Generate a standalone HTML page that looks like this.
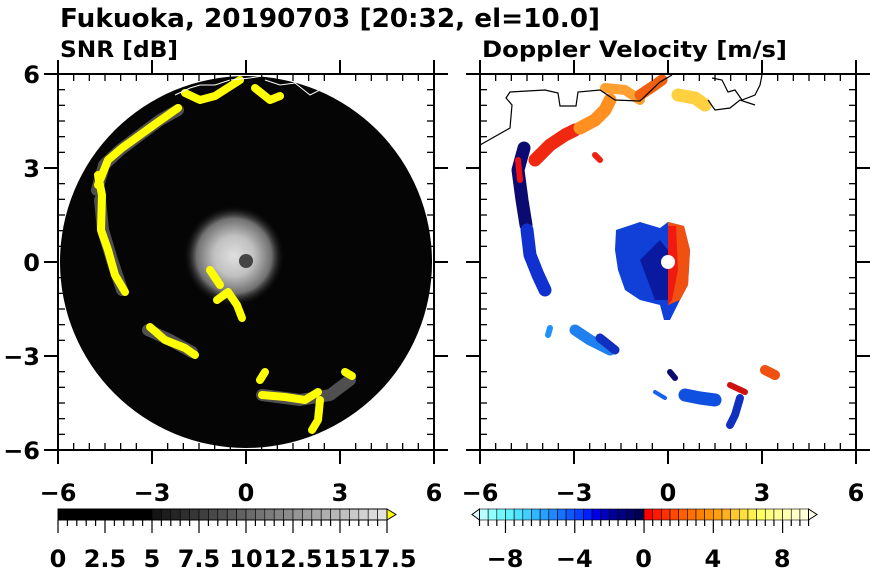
<!DOCTYPE html>
<html><head><meta charset="utf-8">
<style>
html,body{margin:0;padding:0;background:#fff;}
svg{display:block;font-family:"DejaVu Sans","Liberation Sans",sans-serif;font-weight:bold;}
</style></head>
<body>
<svg id="s" width="870" height="570" viewBox="0 0 870 570" xmlns="http://www.w3.org/2000/svg">
<defs>
<radialGradient id="cg" cx="0.5" cy="0.5" r="0.5">
<stop offset="0" stop-color="#e0e0e0"/><stop offset="0.4" stop-color="#c0c0c0"/><stop offset="0.75" stop-color="#707070"/><stop offset="1" stop-color="#111" stop-opacity="0"/>
</radialGradient>
</defs>
<text x="60" y="27" font-size="26" textLength="540" lengthAdjust="spacingAndGlyphs">Fukuoka, 20190703 [20:32, el=10.0]</text>
<text x="60" y="57" font-size="22" textLength="118" lengthAdjust="spacingAndGlyphs">SNR [dB]</text>
<text x="482" y="57" font-size="22" textLength="305" lengthAdjust="spacingAndGlyphs">Doppler Velocity [m/s]</text>

<!-- LEFT PANEL -->
<circle cx="246" cy="262" r="186" fill="#050505"/>
<circle cx="234" cy="256" r="50" fill="url(#cg)"/>
<circle cx="246" cy="261" r="7" fill="#444"/>
<g fill="none" stroke-linecap="round" stroke-linejoin="round">
<g stroke="#999" stroke-width="12" opacity="0.5">
<path d="M97 190 L104 165 L120 150 L140 135 L160 120 L178 110"/>
<path d="M100 200 L103 230 L112 260 L122 290"/>
<path d="M148 330 L170 340 L192 352"/>
<path d="M262 395 L300 400 L330 395 L350 380"/>
</g>
<g stroke="#ff0" stroke-width="8">
<path d="M98 175 L102 195 L101 230 L108 250 L115 275 L125 292"/>
<path d="M98 185 L108 160 L122 148 L140 135 L158 122 L178 108"/>
<path d="M185 93 L200 100 L215 96 L240 80"/>
<path d="M255 88 L270 100 L280 96"/>
<path d="M150 327 L165 340 L185 348 L195 355"/>
<path d="M217 300 L228 292 L237 305 L242 318"/>
<path d="M262 395 L285 397 L305 400 L318 392"/>
<path d="M320 400 L318 420 L312 430"/>
<path d="M345 372 L352 376"/>
<path d="M265 372 L260 380"/>
<path d="M210 270 L220 285"/>
</g>
</g>
<path d="M175 95 L190 88 L200 85 L215 85 L230 80 L250 78 L262 76 M265 80 L280 85 L295 83 L310 95 L320 90 L330 80" stroke="#fff" stroke-width="1" fill="none"/>

<!-- RIGHT PANEL -->
<g stroke-linecap="round" stroke-linejoin="round" fill="none">
<path d="M524 148 L518 170 L522 200 L526 225" stroke="#0a0a70" stroke-width="13"/>
<path d="M527 230 L530 255 L538 275 L545 290" stroke="#1030d0" stroke-width="13"/>
<path d="M518 160 L520 180" stroke="#f01010" stroke-width="6"/>
<path d="M535 160 L550 145 L565 135 L575 130" stroke="#f02810" stroke-width="13"/>
<path d="M580 128 L595 120 L605 110 L610 100" stroke="#ff9020" stroke-width="13"/>
<path d="M605 88 L625 90 L640 100" stroke="#ffa030" stroke-width="10"/>
<path d="M640 95 L655 85 L662 80" stroke="#f06010" stroke-width="11"/>
<path d="M678 95 L695 98 L705 105" stroke="#ffd040" stroke-width="13"/>
<path d="M595 155 L600 160" stroke="#f02010" stroke-width="6"/>
<path d="M575 330 L590 340 L610 350" stroke="#2080f0" stroke-width="11"/>
<path d="M600 338 L615 350" stroke="#1030c0" stroke-width="9"/>
<path d="M550 328 L548 335" stroke="#2090ff" stroke-width="6"/>
<path d="M685 395 L700 398 L715 400" stroke="#1050e0" stroke-width="13"/>
<path d="M740 398 L735 415 L730 425" stroke="#1030c0" stroke-width="8"/>
<path d="M730 385 L745 392" stroke="#d01010" stroke-width="6"/>
<path d="M765 370 L775 375" stroke="#f05010" stroke-width="10"/>
<path d="M655 392 L665 398" stroke="#1a60f0" stroke-width="4"/>
<path d="M670 372 L675 378" stroke="#0a0a70" stroke-width="6"/>
</g>
<path d="M616 230 L640 222 L660 228 L668 222 L684 226 L690 250 L688 285 L680 300 L670 320 L664 320 L660 305 L640 300 L625 290 L618 270 L615 250 Z" fill="#1040d8"/>
<path d="M668 222 L684 226 L690 250 L688 285 L680 300 L668 305 Z" fill="#f05010"/>
<path d="M668 226 L676 226 L678 270 L672 300 L668 305 Z" fill="#f01a10"/>
<path d="M640 260 L660 240 L668 250 L668 300 L655 300 Z" fill="#0a1aa0"/>
<circle cx="668" cy="262" r="7" fill="#fff"/>
<path d="M480 145 L510 128 L512 105 L506 98 L510 92 L545 90 L558 93 L560 106 L576 106 L578 92 L600 90 L615 100 L640 101 L660 82 L672 75 M712 78 L722 80 L728 92 L735 90 L742 100 L755 95 L760 85 L762 75 M708 100 L715 110 L730 108 L740 100 L755 105" stroke="#000" stroke-width="1.2" fill="none"/>

<g id="axes" fill="none" stroke="#000"></g>
<g id="lbl" font-size="24" text-anchor="middle"></g>
<g id="cb"></g>
</svg>
<script>
var NS="http://www.w3.org/2000/svg";
function el(t,a,p,txt){var e=document.createElementNS(NS,t);for(var k in a)e.setAttribute(k,a[k]);if(txt!==undefined)e.textContent=txt;(p||document.getElementById('s')).appendChild(e);return e;}
var ax=document.getElementById('axes'),lb=document.getElementById('lbl'),cb=document.getElementById('cb');
[58,480].forEach(function(x0){
  var y0=74,W=376,x1=x0+W,y1=y0+W;
  el('rect',{x:x0,y:y0,width:W,height:W,'stroke-width':2},ax);
  for(var i=0;i<=24;i++){
    var p=i*W/24, maj=(i%6==0);
    var xx=x0+p, yy=y0+p;
    if(maj){
      el('line',{x1:xx,y1:y0-14,x2:xx,y2:y0,'stroke-width':2},ax);
      el('line',{x1:xx,y1:y1,x2:xx,y2:y1+14,'stroke-width':2},ax);
      el('line',{x1:x0-14,y1:yy,x2:x0,y2:yy,'stroke-width':2},ax);
      el('line',{x1:x1,y1:yy,x2:x1+14,y2:yy,'stroke-width':2},ax);
    }else{
      el('line',{x1:xx,y1:y0,x2:xx,y2:y0+7,'stroke-width':1.3},ax);
      el('line',{x1:xx,y1:y1-7,x2:xx,y2:y1,'stroke-width':1.3},ax);
      el('line',{x1:x0,y1:yy,x2:x0+7,y2:yy,'stroke-width':1.3},ax);
      el('line',{x1:x1-7,y1:yy,x2:x1,y2:yy,'stroke-width':1.3},ax);
    }
  }
  ['−6','−3','0','3','6'].forEach(function(t,j){el('text',{x:x0+j*W/4,y:501},lb,t);});
});
['6','3','0','−3','−6'].forEach(function(t,j){el('text',{x:40,y:74+j*94+9,'text-anchor':'end'},lb,t);});
var cy=509,ch=11;
for(var i=0;i<35;i++){var v=i*0.5;var g=v<5?0:Math.round(20+(v-5)/12.5*215);
 el('rect',{x:58+i*9.4,y:cy,width:9.4,height:ch,fill:'rgb('+g+','+g+','+g+')',stroke:'#000','stroke-width':0.6},cb);}
el('path',{d:'M387 509 L396 514.5 L387 520 Z',fill:'#ff0',stroke:'#000','stroke-width':1},cb);
el('rect',{x:58,y:cy,width:329,height:ch,fill:'none',stroke:'#000','stroke-width':1},cb);
for(var i=0;i<=35;i++){var x=58+i*9.4;el('line',{x1:x,y1:520,x2:x,y2:(i%5==0)?533:526,stroke:'#000','stroke-width':1.2},cb);}
['0','2.5','5','7.5','10','12.5','15','17.5'].forEach(function(t,j){el('text',{x:58+j*47,y:567,'font-size':24,'text-anchor':'middle'},cb,t);});
var cols=['#b8ffff','#90ffff','#70f8ff','#60f0ff','#50e0ff','#40d0ff','#30b8ff','#28a0ff','#2088ff','#1870ff','#1058ff','#0840ff','#0020ff','#0000e8','#0000c0','#000098','#000080','#000068','#000050',
'#ff0000','#ff1a00','#ff3000','#ff4800','#ff6000','#ff7000','#ff8000','#ff9000','#ffa010','#ffb020','#ffc830','#ffe040','#fff050','#ffff60','#ffff80','#ffff98','#ffffb0','#ffffc8','#ffffd8'];
for(var i=0;i<38;i++){el('rect',{x:479.5+i*8.66,y:cy,width:8.66,height:ch,fill:cols[i],stroke:'#000','stroke-width':0.6},cb);}
el('path',{d:'M479.5 509 L472 514.5 L479.5 520 Z',fill:'#d8ffff',stroke:'#000','stroke-width':1},cb);
el('path',{d:'M808.5 509 L817 514.5 L808.5 520 Z',fill:'#ffffe8',stroke:'#000','stroke-width':1},cb);
for(var i=0;i<=38;i++){var x=479.5+i*8.66;var v=-9.5+i*0.5;var maj=(Math.abs(v%4)<0.01);el('line',{x1:x,y1:520,x2:x,y2:maj?533:526,stroke:'#000','stroke-width':1.2},cb);}
['−8','−4','0','4','8'].forEach(function(t,j){el('text',{x:505+j*69.3,y:567,'font-size':24,'text-anchor':'middle'},cb,t);});
</script>
</body></html>
